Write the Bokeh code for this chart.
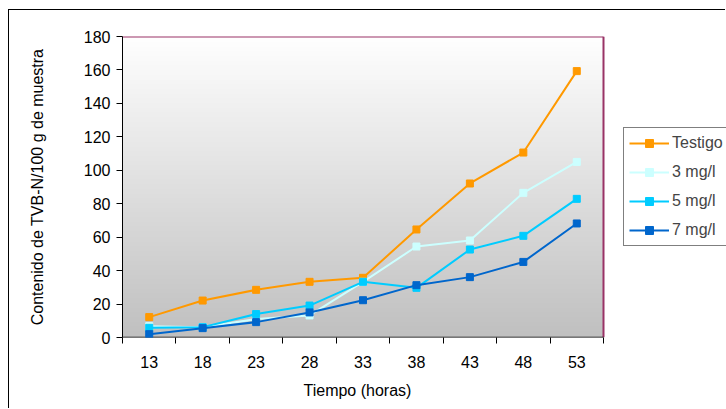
import numpy as np
from bokeh.plotting import figure
from bokeh.models import FixedTicker, Range1d, Legend, LegendItem, Title
from bokeh.embed import file_html
from bokeh.resources import INLINE

# ---- data ----
tiempo = [13, 18, 23, 28, 33, 38, 43, 48, 53]
testigo = [12.2, 22.1, 28.5, 33.3, 35.7, 64.6, 92.1, 110.6, 159.3]
mg3 = [6.8, 6.2, 11.0, 13.2, 33.3, 54.4, 58.0, 86.5, 105.0]
mg5 = [5.8, 6.2, 14.0, 19.1, 33.3, 29.7, 52.6, 60.8, 82.9]
mg7 = [2.0, 5.6, 9.2, 15.0, 22.3, 31.3, 36.1, 45.2, 68.2]
y_ticks = [0, 20, 40, 60, 80, 100, 120, 140, 160, 180]

series = [
    ("Testigo", testigo, "#FF9900"),
    ("3 mg/l", mg3, "#CCFFFF"),
    ("5 mg/l", mg5, "#00CCFF"),
    ("7 mg/l", mg7, "#0066CC"),
]

FONT = "Liberation Sans"
step = tiempo[1] - tiempo[0]
x0 = tiempo[0] - step / 2
x1 = tiempo[-1] + step / 2
y0, y1 = y_ticks[0], y_ticks[-1]

W, H = 717, 399
BL, BT, BB = 113, 26, 72
AREA_W = 481                       # pixel width of the plotting area
FRAME_W = W - BL                   # frame extends under the legend
x_end = x0 + (x1 - x0) * FRAME_W / AREA_W

p = figure(width=W, height=H, output_backend="svg", toolbar_location=None,
           x_range=Range1d(x0, x_end), y_range=Range1d(y0, y1),
           min_border_left=BL, min_border_right=0, min_border_top=BT,
           min_border_bottom=BB)
p.styles = {"margin-left": "8px", "margin-top": "9px",
            "border-left": "1px solid black", "border-top": "1px solid black"}

# gradient background of the plotting area
n = 256
g = np.linspace(192, 255, n).astype(np.uint8)  # row 0 is bottom
img = np.zeros((n, 1), dtype=np.uint32)
view = img.view(dtype=np.uint8).reshape((n, 1, 4))
view[:, 0, 0] = g
view[:, 0, 1] = g
view[:, 0, 2] = g
view[:, 0, 3] = 255
p.image_rgba(image=[img], x=x0, y=y0, dw=x1 - x0, dh=y1 - y0)

p.background_fill_color = "white"
p.border_fill_color = "white"
p.outline_line_color = None
p.xgrid.visible = False
p.ygrid.visible = False

# plot-area border (top, right in maroon; bottom black)
p.segment(x0=[x0, x1], y0=[y1, y0], x1=[x1, x1], y1=[y1, y1],
          line_color="#993366", line_width=2)
p.segment(x0=[x0], y0=[y0], x1=[x1], y1=[y0], line_color="black", line_width=1.5)

items = []
for name, vals, col in series:
    l = p.line(tiempo, vals, line_color=col, line_width=2)
    s = p.scatter(tiempo, vals, marker="square", size=7, fill_color=col, line_color=col)
    items.append(LegendItem(label=name, renderers=[l, s]))

legend = Legend(items=items, location=(501, 91))
legend.label_text_font = FONT
legend.label_text_font_size = "16px"
legend.glyph_width = 40
legend.glyph_height = 20
legend.label_height = 20
legend.spacing = 9
legend.padding = 5
legend.margin = 0
legend.label_standoff = 3
legend.border_line_color = "black"
legend.border_line_width = 1
legend.background_fill_alpha = 1
p.add_layout(legend, "center")

# x axis
p.xaxis.ticker = FixedTicker(ticks=tiempo,
                             minor_ticks=[t - step / 2 for t in tiempo] + [x1])
p.xaxis.major_label_overrides = {t: str(t) for t in tiempo}
p.xaxis.major_tick_line_color = None
p.xaxis.minor_tick_out = 6
p.xaxis.minor_tick_in = 0
p.xaxis.minor_tick_line_color = "black"
p.xaxis.axis_line_color = None
p.xaxis.major_label_standoff = 12

# x axis title, centred under the plotting area (not under the legend)
xt = Title(text="Tiempo (horas)", align="left", offset=181, standoff=19,
           text_font=FONT, text_font_size="16px", text_font_style="normal",
           text_color="black")
p.add_layout(xt, "below")

# y axis
p.yaxis.ticker = FixedTicker(ticks=y_ticks)
p.yaxis.major_tick_out = 6
p.yaxis.major_tick_in = 0
p.yaxis.minor_tick_line_color = None
p.yaxis.axis_line_color = "black"
p.yaxis.major_label_standoff = 6
p.yaxis.axis_label = "Contenido de TVB-N/100 g de muestra"
p.yaxis.axis_label_standoff = 35

for ax in (p.xaxis, p.yaxis):
    ax.major_label_text_font = FONT
    ax.major_label_text_font_size = "16px"
    ax.major_label_text_color = "black"
    ax.axis_label_text_font = FONT
    ax.axis_label_text_font_size = "16px"
    ax.axis_label_text_font_style = "normal"
    ax.axis_label_text_color = "black"

open("out.html", "w").write(file_html(p, INLINE))
